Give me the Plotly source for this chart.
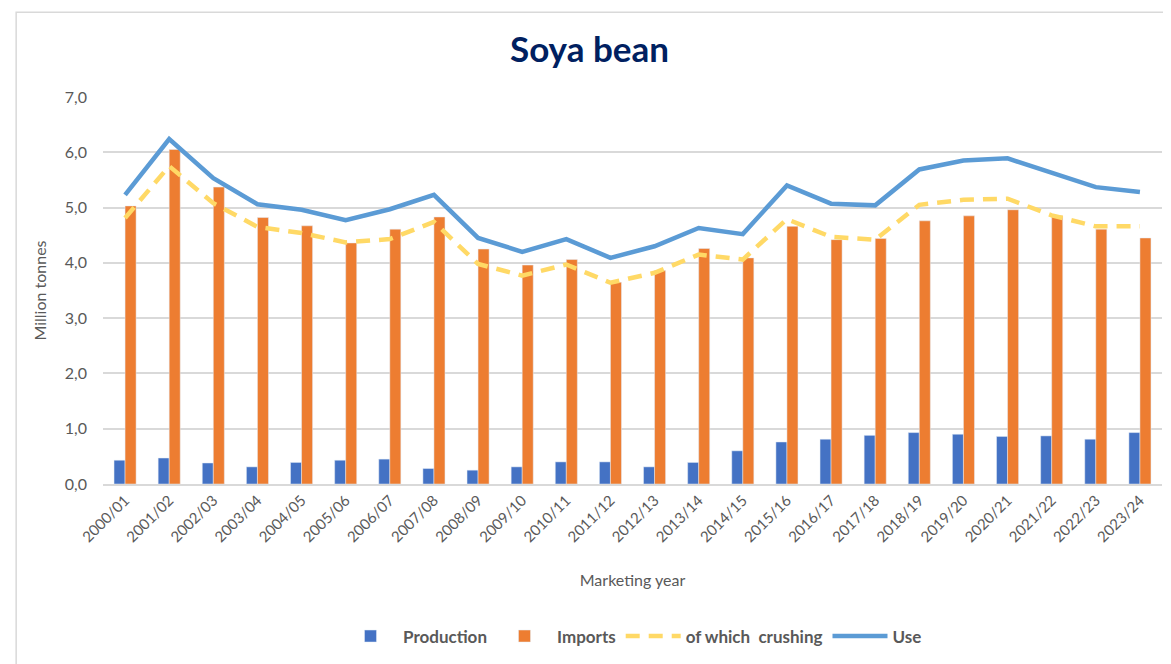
import plotly.graph_objects as go

years = ["2000/01","2001/02","2002/03","2003/04","2004/05","2005/06","2006/07","2007/08",
         "2008/09","2009/10","2010/11","2011/12","2012/13","2013/14","2014/15","2015/16",
         "2016/17","2017/18","2018/19","2019/20","2020/21","2021/22","2022/23","2023/24"]
production = [0.43,0.47,0.38,0.31,0.39,0.43,0.45,0.28,0.25,0.31,0.40,
              0.40,0.31,0.39,0.60,0.76,0.81,0.88,0.93,0.90,0.86,0.87,0.81,0.93]
imports = [5.03,6.05,5.37,4.82,4.67,4.36,4.61,4.83,4.25,3.96,4.06,
           3.65,3.86,4.26,4.09,4.66,4.42,4.44,4.76,4.85,4.96,4.85,4.61,4.45]
crushing = [4.81,5.75,5.08,4.65,4.54,4.37,4.43,4.74,3.98,3.77,3.97,
            3.64,3.82,4.15,4.06,4.79,4.47,4.42,5.05,5.14,5.16,4.86,4.66,4.66]
use = [5.23,6.24,5.53,5.06,4.96,4.77,4.97,5.23,4.45,4.20,4.43,
       4.09,4.30,4.63,4.52,5.40,5.07,5.04,5.69,5.85,5.89,5.62,5.37,5.28]

FONT = "Lato"
GRAY = "#595959"

fig = go.Figure()
fig.add_trace(go.Bar(x=years, y=production, name="<b>Production</b>", marker_color="#4472C4"))
fig.add_trace(go.Bar(x=years, y=imports, name="<b>Imports</b>", marker_color="#ED7D31"))
fig.add_trace(go.Scatter(x=years, y=crushing, name="<b>of which  crushing</b>", mode="lines",
                         line=dict(color="#FFD966", width=4.5, dash="14px,9px")))
fig.add_trace(go.Scatter(x=years, y=use, name="<b>Use</b>", mode="lines",
                         line=dict(color="#5B9BD5", width=4.5)))

# page body has an 8px margin; the figure is placed at (8, 8)
fig.update_layout(
    width=1163, height=656,
    margin=dict(l=95, r=9, t=89, b=171),
    paper_bgcolor="white", plot_bgcolor="white",
    separators=",.",
    barmode="group", bargap=0.5, bargroupgap=0,
    font=dict(family=FONT, color=GRAY, size=15),
    title=dict(text="<b>Soya bean</b>", x=0.5, xanchor="center", y=1 - 42/656, yanchor="middle",
               font=dict(family=FONT, size=35, color="#002060")),
    legend=dict(orientation="h", x=0.5, xanchor="center", y=-0.394, yanchor="middle",
                font=dict(family=FONT, size=17, color=GRAY), traceorder="normal",
                itemwidth=55),
    showlegend=True,
    shapes=[dict(type="rect", xref="paper", yref="paper", x0=-0.082, x1=1.02, y0=-0.6, y1=1.219,
                 line=dict(color="#D9D9D9", width=1.5), fillcolor="rgba(0,0,0,0)", layer="below")],
)
fig.update_yaxes(range=[0, 7], dtick=1, tickformat=".1f", showgrid=True, gridcolor="#D9D9D9",
                 gridwidth=1.5, zeroline=False, showline=False, ticks="",
                 tickfont=dict(size=16, color=GRAY), ticklabelstandoff=15,
                 title=dict(text="Million tonnes", font=dict(size=16, color=GRAY), standoff=14))
fig.update_xaxes(tickangle=-45, showline=True, linecolor="#D9D9D9", linewidth=1.5, ticks="",
                 tickfont=dict(size=15, color=GRAY),
                 title=dict(text="Marketing year", font=dict(size=16, color=GRAY), standoff=30))

fig.write_html("out.html")
